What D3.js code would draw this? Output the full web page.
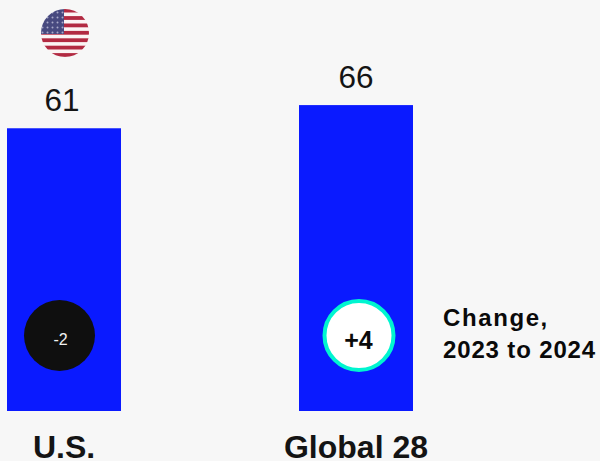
<!DOCTYPE html>
<html lang="en">
<head>
<meta charset="UTF-8">
<title>U.S. vs Global 28</title>
<script src="https://d3js.org/d3.v7.min.js"></script>
<style>
html, body { margin: 0; padding: 0; background: #f7f7f7; }
svg { display: block; font-family: "Liberation Sans", Arial, sans-serif; }
</style>
</head>
<body>
<div id="chart"></div>
<script>
// Values
const categories = ["U.S.", "Global 28"];
const values = [61, 66];
const changes = ["-2", "+4"];
const changeNote = ["Change,", "2023 to 2024"];

const width = 600, height = 461;
const baseline = 411;

const svg = d3.select("#chart").append("svg")
    .attr("width", width)
    .attr("height", height);

const x = d3.scaleBand().domain(categories).range([7, 413]).paddingInner(178 / 292).paddingOuter(0);
const y = d3.scaleLinear().domain([0, 100]).range([baseline, -52.5]);

// Bars
svg.selectAll("rect.bar")
    .data(values)
    .enter().append("rect")
    .attr("class", "bar")
    .attr("x", (d, i) => x(categories[i]))
    .attr("y", d => y(d))
    .attr("width", x.bandwidth())
    .attr("height", d => baseline - y(d))
    .attr("fill", "#0a1aff");

// Value labels
svg.selectAll("text.value")
    .data(values)
    .enter().append("text")
    .attr("class", "value")
    .attr("x", (d, i) => x(categories[i]) + x.bandwidth() / 2 - (i ? 0 : 2))
    .attr("y", d => y(d) - 17)
    .attr("text-anchor", "middle")
    .attr("font-size", 31.5)
    .attr("fill", "#141414")
    .text(d => d);

// Category labels
svg.selectAll("text.cat")
    .data(categories)
    .enter().append("text")
    .attr("class", "cat")
    .attr("x", (d, i) => x(d) + x.bandwidth() / 2)
    .attr("y", 458)
    .attr("text-anchor", "middle")
    .attr("font-size", 32)
    .attr("font-weight", "bold")
    .attr("fill", "#141414")
    .text(d => d);

// Change circles
const usX = x(categories[0]) + 52.5, glX = x(categories[1]) + 60;
svg.append("circle").attr("cx", usX).attr("cy", 335.5).attr("r", 35.5).attr("fill", "#0f0f0f");
svg.append("text").attr("x", usX + 1).attr("y", 345).attr("text-anchor", "middle")
    .attr("font-size", 16).attr("fill", "#f2f2f2").text(changes[0]);

svg.append("circle").attr("cx", glX).attr("cy", 335.5).attr("r", 34.5)
    .attr("fill", "#fff").attr("stroke", "#00f5d0").attr("stroke-width", 4);
svg.append("text").attr("x", glX - 0.5).attr("y", 349).attr("text-anchor", "middle")
    .attr("font-size", 25).attr("font-weight", "bold").attr("fill", "#0a0a0a").text(changes[1]);

// Note next to the circles
svg.selectAll("text.note")
    .data(changeNote)
    .enter().append("text")
    .attr("class", "note")
    .attr("x", 443)
    .attr("y", (d, i) => 326 + i * 32)
    .attr("font-size", 24)
    .attr("font-weight", "bold")
    .attr("letter-spacing", (d, i) => i ? 0.85 : 1.6)
    .attr("fill", "#0a0a0a")
    .text(d => d);

// Flag icon, blurred like the scaled up bitmap in the original
const defs = svg.append("defs");
defs.append("clipPath").attr("id", "flagClip")
    .append("circle").attr("cx", 65).attr("cy", 33).attr("r", 24);
defs.append("filter").attr("id", "soft")
    .append("feGaussianBlur").attr("stdDeviation", 0.7);
const dots = defs.append("pattern").attr("id", "stars")
    .attr("patternUnits", "userSpaceOnUse").attr("width", 5).attr("height", 5);
dots.append("rect").attr("width", 5).attr("height", 5).attr("fill", "#46487f");
dots.append("circle").attr("cx", 2.5).attr("cy", 2.5).attr("r", 1).attr("fill", "#a9a9c8");

const flag = svg.append("g").attr("clip-path", "url(#flagClip)")
    .append("g").attr("filter", "url(#soft)");
flag.append("rect").attr("x", 38).attr("y", 6).attr("width", 54).attr("height", 54).attr("fill", "#fbf4f4");
const stripes = d3.range(0, 7);
const stripeY = d3.scaleLinear().domain([0, 7]).range([8.7, 60.5]);
flag.selectAll("rect.stripe")
    .data(stripes)
    .enter().append("rect")
    .attr("class", "stripe")
    .attr("x", 38)
    .attr("y", d => stripeY(d))
    .attr("width", 54)
    .attr("height", 3.8)
    .attr("fill", "#b22a42");
flag.append("rect").attr("x", 38).attr("y", 6).attr("width", 26).attr("height", 28).attr("fill", "url(#stars)");
</script>
</body>
</html>
